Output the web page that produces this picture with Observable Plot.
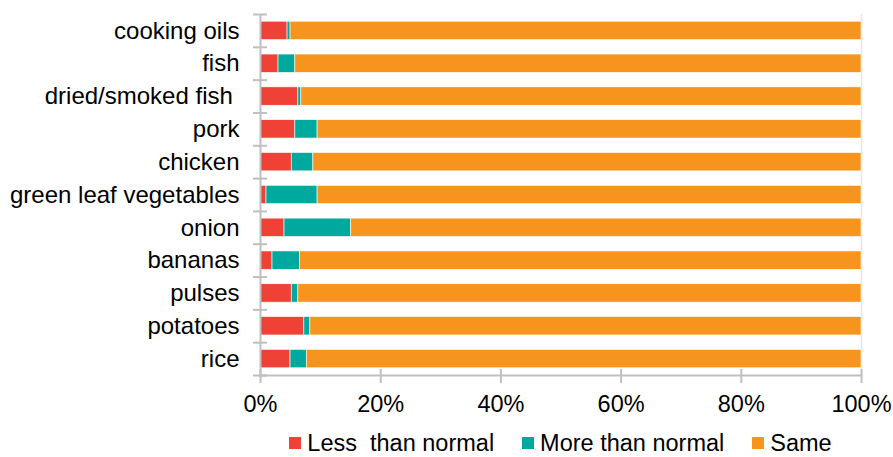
<!DOCTYPE html>
<html>
<head>
<meta charset="utf-8">
<script src="https://cdn.jsdelivr.net/npm/d3@7"></script>
<script src="https://cdn.jsdelivr.net/npm/@observablehq/plot@0.6"></script>
<style>
  html, body { margin: 0; padding: 0; background: #fff; }
  #chart { width: 893px; }
  .legend {
    display: flex;
    justify-content: center;
    align-items: center;
    gap: 28px;
    padding-left: 260px;
    padding-right: 32px;
    height: 24px;
    line-height: 24px;
    font-family: "Liberation Sans", Arial, sans-serif;
    font-size: 23.5px;
    color: #000;
    white-space: pre;
  }
  .legend .item { display: flex; align-items: center; gap: 6px; }
  .legend .swatch { width: 12px; height: 12px; display: inline-block; }
</style>
</head>
<body>
<div id="chart"></div>
<script>
// Food items, top to bottom
const categories = [
  "cooking oils", "fish", "dried/smoked fish\u00a0", "pork", "chicken",
  "green leaf vegetables", "onion", "bananas", "pulses", "potatoes", "rice"
];

// Series names and colours
const series = ["Less  than normal", "More than normal", "Same"];
const colors = ["#ef4136", "#00a99d", "#f7941d"];

// Share of responses (%) per food item
const lessThanNormal = [4.5, 3.0, 6.3, 5.8, 5.2, 1.0, 4.0, 2.0, 5.2, 7.3, 5.0];
const moreThanNormal = [0.5, 2.8, 0.5, 3.7, 3.6, 8.5, 11.1, 4.6, 1.1, 1.0, 2.7];
const same           = [95.0, 94.2, 93.2, 90.5, 91.2, 90.5, 84.9, 93.4, 93.7, 91.7, 92.3];

const xTicks = [0, 20, 40, 60, 80, 100];

// Long-format rows for stacking
const seriesValues = [lessThanNormal, moreThanNormal, same];
const rows = [];
categories.forEach((c, i) => {
  series.forEach((s, j) => rows.push({category: c, series: s, value: seriesValues[j][i]}));
});

const width = 893, height = 431;
const marginTop = 14, marginBottom = 56, marginLeft = 260, marginRight = 32;
const paddingInner = 0.44;
const step = (height - marginTop - marginBottom) / categories.length;
const axisGray = "#bfbfbf";

const plot = Plot.plot({
  width, height, marginTop, marginBottom, marginLeft, marginRight,
  style: {fontFamily: "'Liberation Sans', Arial, sans-serif", fontSize: "23.5px", color: "#000", background: "#fff"},
  x: {domain: [0, 100], label: null, axis: null},
  y: {domain: categories, label: null, axis: null, round: false, paddingInner, paddingOuter: paddingInner / 2},
  color: {domain: series, range: colors},
  marks: [
    Plot.ruleX([100], {stroke: "#e6e6e6", strokeWidth: 1.5}),
    Plot.barX(rows, {y: "category", x: "value", fill: "series", stroke: "#fff", strokeWidth: 0.6}),
    // value axis line and crossing ticks
    Plot.frame({anchor: "bottom", stroke: axisGray, strokeWidth: 2}),
    Plot.axisX({ticks: xTicks, tickSize: 14, dy: -6, tickFormat: () => "", stroke: axisGray, strokeWidth: 2}),
    Plot.axisX({ticks: xTicks, tickSize: 0, tickPadding: 20, tickFormat: d => d + "%", fill: "#000"}),
    // category axis line, boundary ticks and labels
    Plot.ruleX([0], {stroke: axisGray, strokeWidth: 2}),
    Plot.axisY({tickSize: 14, dx: 7, dy: -step / 2, tickFormat: () => "", stroke: axisGray, strokeWidth: 2}),
    Plot.axisY({ticks: [categories[categories.length - 1]], tickSize: 14, dx: 7, dy: step / 2, tickFormat: () => "", stroke: axisGray, strokeWidth: 2}),
    Plot.axisY({tickSize: 0, tickPadding: 21, fill: "#000", fontSize: 24})
  ]
});

const chart = document.getElementById("chart");
chart.appendChild(plot);

// Legend below the plot
const legend = document.createElement("div");
legend.className = "legend";
series.forEach((s, i) => {
  const item = document.createElement("span");
  item.className = "item";
  const sw = document.createElement("span");
  sw.className = "swatch";
  sw.style.background = colors[i];
  const label = document.createElement("span");
  label.textContent = s;
  item.appendChild(sw);
  item.appendChild(label);
  legend.appendChild(item);
});
chart.appendChild(legend);
</script>
</body>
</html>
